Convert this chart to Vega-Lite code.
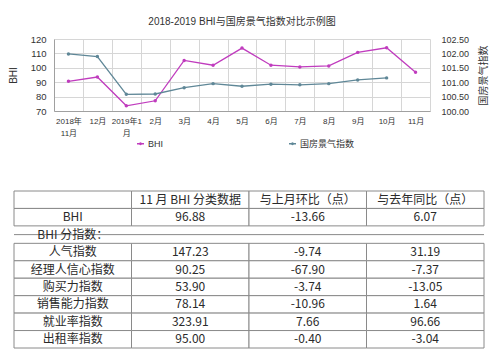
{
  "$schema": "https://vega.github.io/schema/vega-lite/v6.json",
  "padding": {"left": 8, "top": 17, "right": 0, "bottom": 0},
  "background": "white",
  "config": {
    "view": {"stroke": null},
    "font": "Liberation Sans, Noto Sans CJK SC"
  },
  "spacing": 41,
  "resolve": {"scale": {"color": "independent"}, "legend": {"color": "independent"}},
  "vconcat": [
    {
      "width": 376,
      "height": 72,
      "title": {
        "text": "2018-2019 BHI与国房景气指数对比示例图",
        "fontSize": 10,
        "fontWeight": "normal",
        "color": "#333333",
        "font": "Liberation Sans, Noto Sans CJK SC",
        "offset": 7,
        "anchor": "middle"
      },
      "data": {
        "values": [
          {"m": "2018年|11月", "BHI": 90.6, "gf": 101.98},
          {"m": "12月", "BHI": 93.6, "gf": 101.89},
          {"m": "2019年1|月", "BHI": 73.6, "gf": 100.58},
          {"m": "2月", "BHI": 77.1, "gf": 100.59},
          {"m": "3月", "BHI": 105.1, "gf": 100.81},
          {"m": "4月", "BHI": 101.8, "gf": 100.95},
          {"m": "5月", "BHI": 113.7, "gf": 100.86},
          {"m": "6月", "BHI": 101.8, "gf": 100.93},
          {"m": "7月", "BHI": 100.6, "gf": 100.91},
          {"m": "8月", "BHI": 101.3, "gf": 100.95},
          {"m": "9月", "BHI": 110.7, "gf": 101.08},
          {"m": "10月", "BHI": 113.9, "gf": 101.15},
          {"m": "11月", "BHI": 96.88, "gf": null}
        ]
      },
      "encoding": {
        "x": {
          "field": "m",
          "type": "ordinal",
          "sort": null,
          "scale": {"type": "band", "paddingInner": 0, "paddingOuter": 0},
          "axis": {
            "title": null,
            "labelAngle": 0,
            "labelExpr": "isValid(datum.value) ? split(datum.value, '|') : ''",
            "labelFontSize": 8,
            "labelColor": "#333333",
            "labelPadding": 6,
            "labelLineHeight": 12,
            "ticks": false,
            "tickBand": "extent",
            "grid": true,
            "gridColor": "#d6d6d6",
            "domainColor": "#a0a0a0"
          }
        }
      },
      "layer": [
        {
          "mark": {"type": "line", "strokeWidth": 1.3, "point": {"filled": true, "size": 12}},
          "encoding": {
            "y": {
              "field": "BHI",
              "type": "quantitative",
              "scale": {"domain": [70, 120], "nice": false, "zero": false},
              "axis": {
                "title": "BHI",
                "titleFontSize": 10,
                "titleFontWeight": "normal",
                "titleColor": "#333333",
                "titlePadding": 12,
                "values": [70, 80, 90, 100, 110, 120],
                "labelFontSize": 9.5,
                "labelColor": "#333333",
                "labelPadding": 8,
                "ticks": false,
                "grid": true,
                "gridColor": "#d6d6d6",
                "domainColor": "#a0a0a0"
              }
            },
            "color": {
              "datum": "BHI",
              "scale": {"domain": ["BHI", "国房景气指数"], "range": ["#c03cbe", "#5f8797"]},
              "legend": {
                "title": null,
                "orient": "none",
                "legendX": 82,
                "legendY": 100,
                "direction": "horizontal",
                "columnPadding": 122,
                "labelFontSize": 9,
                "labelColor": "#333333",
                "symbolType": "M-1,0L1,0M-0.25,0A0.25,0.25,0,1,0,0.25,0A0.25,0.25,0,1,0,-0.25,0",
                "symbolSize": 49,
                "symbolStrokeWidth": 1.3,
                "labelOffset": 3,
                "encode": {
                  "symbols": {"update": {"fill": {"scale": "color", "field": "value"}}}
                }
              }
            }
          }
        },
        {
          "mark": {"type": "line", "strokeWidth": 1.3, "point": {"filled": true, "size": 12}},
          "encoding": {
            "y": {
              "field": "gf",
              "type": "quantitative",
              "scale": {"domain": [100, 102.5], "nice": false, "zero": false},
              "axis": {
                "orient": "right",
                "title": "国房景气指数",
                "titleAngle": 270,
                "titleBaseline": "top",
                "titleFontSize": 10,
                "titleFontWeight": "normal",
                "titleColor": "#333333",
                "titlePadding": 10,
                "values": [100, 100.5, 101, 101.5, 102, 102.5],
                "format": ".2f",
                "labelFontSize": 9,
                "labelColor": "#333333",
                "labelPadding": 11,
                "ticks": false,
                "grid": false,
                "domain": false
              }
            },
            "color": {"datum": "国房景气指数"}
          }
        }
      ],
      "resolve": {"scale": {"y": "independent"}, "axis": {"y": "independent"}}
    },
    {
      "width": 430,
      "height": 157,
      "data": {
        "values": [
          {"r": "0", "a": "", "b": "11 月 BHI 分类数据", "c": "与上月环比（点）", "d": "与去年同比（点）"},
          {"r": "1", "a": "BHI", "b": "96.88", "c": "-13.66", "d": "6.07"},
          {"r": "2", "a": "BHI 分指数：", "b": "", "c": "", "d": ""},
          {"r": "3", "a": "人气指数", "b": "147.23", "c": "-9.74", "d": "31.19"},
          {"r": "4", "a": "经理人信心指数", "b": "90.25", "c": "-67.90", "d": "-7.37"},
          {"r": "5", "a": "购买力指数", "b": "53.90", "c": "-3.74", "d": "-13.05"},
          {"r": "6", "a": "销售能力指数", "b": "78.14", "c": "-10.96", "d": "1.64"},
          {"r": "7", "a": "就业率指数", "b": "323.91", "c": "7.66", "d": "96.66"},
          {"r": "8", "a": "出租率指数", "b": "95.00", "c": "-0.40", "d": "-3.04"}
        ]
      },
      "transform": [{"fold": ["a", "b", "c", "d"], "as": ["key", "value"]}],
      "encoding": {
        "y": {
          "field": "r",
          "type": "ordinal",
          "sort": "ascending",
          "scale": {"type": "band", "paddingInner": 0, "paddingOuter": 0},
          "axis": null
        },
        "x": {
          "field": "key",
          "type": "ordinal",
          "sort": "ascending",
          "scale": {"type": "band", "paddingInner": 0, "paddingOuter": 0, "range": [-40, 430]},
          "axis": null
        }
      },
      "layer": [
        {
          "transform": [{"filter": "datum.r != '2'"}],
          "mark": {"type": "rect", "fill": "white", "stroke": "#8a8a8a", "strokeWidth": 1}
        },
        {
          "transform": [{"filter": "datum.r == '2' && datum.key == 'a'"}],
          "mark": {"type": "rule", "color": "#8a8a8a", "strokeWidth": 1},
          "encoding": {"x": {"datum": "a", "bandPosition": 0}}
        },
        {
          "transform": [{"filter": "datum.r == '2' && datum.key == 'a'"}],
          "mark": {"type": "rule", "color": "#8a8a8a", "strokeWidth": 1},
          "encoding": {"x": {"datum": "d", "bandPosition": 1}}
        },
        {
          "mark": {"type": "text", "fontSize": 12, "font": "Noto Sans CJK SC", "color": "#2a2a2a"},
          "encoding": {
            "text": {"field": "value"}
          }
        }
      ]
    }
  ]
}
